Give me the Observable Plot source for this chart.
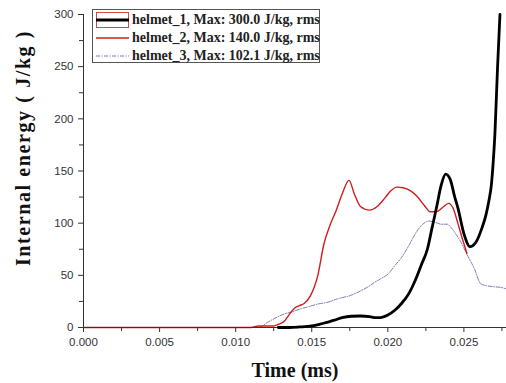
<!DOCTYPE html>
<html>
<head>
<meta charset="utf-8">
<script src="https://cdn.jsdelivr.net/npm/d3@7"></script>
<script src="https://cdn.jsdelivr.net/npm/@observablehq/plot@0.6"></script>
<style>
  html, body { margin: 0; padding: 0; background: #fff; }
  #wrap { position: relative; width: 506px; height: 383px; overflow: hidden; }
  #wrap svg { position: absolute; left: 0; top: 0; }
  .title { position: absolute; font-family: "Liberation Serif", serif; font-weight: bold; font-size: 20px; color: #111; white-space: nowrap; }
  #legend { position: absolute; left: 92px; top: 9px; width: 226px; height: 52px; border: 1px solid #555; background: #fff; }
  #legend .row { position: absolute; left: 0; height: 18px; width: 100%; }
  #legend .lab { position: absolute; left: 39px; top: 0; font-family: "Liberation Serif", serif; font-weight: bold; font-size: 14px; line-height: 18px; color: #222; white-space: nowrap; }
</style>
</head>
<body>
<div id="wrap"></div>
<script>
// ---- data ----
const seriesNames = ["helmet_1, Max: 300.0 J/kg, rms", "helmet_2, Max: 140.0 J/kg, rms", "helmet_3, Max: 102.1 J/kg, rms"];
const seriesColors = ["#000000", "#d01c1c", "#6a6fa8"];

const time1 = [0.0128, 0.0135, 0.0142, 0.0150, 0.0155, 0.0160, 0.0165, 0.0170, 0.0176, 0.0182, 0.0188, 0.0192, 0.0195, 0.0200, 0.0205, 0.0209, 0.0214, 0.0218, 0.0222, 0.0226, 0.0229, 0.0232, 0.0235, 0.0238, 0.0241, 0.0244, 0.0246, 0.0250, 0.0254, 0.0258, 0.0262, 0.02645, 0.02665, 0.0268, 0.02692, 0.02704, 0.02721, 0.02737];
const energy1 = [0, 0, 0.5, 1.5, 3, 5, 7, 9.5, 10.8, 11, 10.5, 9.5, 9.5, 12, 17, 23, 33, 45, 60, 75, 95, 115, 136, 147, 142, 125, 115, 90, 77.5, 82, 96, 108, 122, 136, 157, 186, 249, 300];

const time2 = [0, 0.0110, 0.0115, 0.0120, 0.0125, 0.0128, 0.0132, 0.0136, 0.0139, 0.0142, 0.0145, 0.0149, 0.0154, 0.0158, 0.0162, 0.0166, 0.0170, 0.01745, 0.0178, 0.0182, 0.0188, 0.0193, 0.0198, 0.0202, 0.0206, 0.0210, 0.0215, 0.0219, 0.0224, 0.0228, 0.0232, 0.0236, 0.0240, 0.0243, 0.0246, 0.0249, 0.0252];
const energy2 = [0, 0, 1.5, 1.5, 1.5, 3, 6, 14, 19, 21, 23, 30, 50, 80, 98, 112, 128, 141, 128, 116, 112.5, 116, 124, 131, 134.5, 134, 131, 126, 117, 111, 111, 115, 119, 114, 100, 85, 71];

const time3 = [0, 0.0115, 0.0121, 0.0126, 0.0132, 0.0137, 0.0143, 0.0148, 0.0154, 0.0160, 0.0167, 0.0176, 0.0182, 0.0187, 0.0191, 0.0195, 0.0200, 0.0205, 0.0209, 0.0214, 0.0219, 0.0223, 0.0227, 0.0231, 0.0235, 0.0239, 0.0242, 0.0245, 0.0248, 0.0252, 0.0257, 0.0261, 0.0265, 0.0270, 0.0274, 0.0278];
const energy3 = [0, 0, 5, 9, 13, 15, 18, 20, 22.5, 24, 27.5, 31, 35, 39, 43, 46.5, 51, 60, 67, 79, 92, 99, 102, 101, 99, 99, 95, 89, 82, 70, 56, 42, 40, 39, 38.5, 37];

const xTicks = [0, 0.005, 0.010, 0.015, 0.020, 0.025];
const xMinorTicks = [0.0025, 0.0075, 0.0125, 0.0175, 0.0225, 0.0275];
const yTicks = [0, 50, 100, 150, 200, 250, 300];
const yMinorTicks = [25, 75, 125, 175, 225, 275];

const xLabel = "Time (ms)";
const yLabel = "Internal energy ( J/kg )";

// ---- build ----
const toRows = (ts, vs, s) => ts.map((t, i) => ({t, v: vs[i], s}));
const rows1 = toRows(time1, energy1, seriesNames[0]);
const rows2 = toRows(time2, energy2, seriesNames[1]);
const rows3 = toRows(time3, energy3, seriesNames[2]);

const chart = Plot.plot({
  width: 506,
  height: 383,
  marginLeft: 83,
  marginRight: 0,
  marginTop: 14,
  marginBottom: 56,
  style: {fontFamily: "'Liberation Sans', Arial, sans-serif", fontSize: "11.5px", color: "#333", background: "transparent"},
  x: {domain: [0, 0.0278]},
  y: {domain: [0, 300]},
  marks: [
    Plot.axisX({ticks: xMinorTicks, tickSize: 4, tickFormat: () => "", label: null}),
    Plot.axisX({ticks: xTicks, tickSize: 5, tickPadding: 5, tickFormat: d3.format(".3f"), label: null}),
    Plot.axisY({ticks: yMinorTicks, tickSize: 4, tickFormat: () => "", label: null}),
    Plot.axisY({ticks: yTicks, tickSize: 5, tickPadding: 5, tickFormat: d3.format("d"), label: null}),
    Plot.line(rows3, {x: "t", y: "v", stroke: seriesColors[2], strokeWidth: 0.9, strokeDasharray: "4,1.5,1,1.5", curve: "monotone-x"}),
    Plot.line(rows2, {x: "t", y: "v", stroke: seriesColors[1], strokeWidth: 1.4, curve: "monotone-x"}),
    Plot.ruleY([0], {stroke: "#333", strokeWidth: 1}),
    Plot.ruleX([0], {stroke: "#333", strokeWidth: 1}),
    Plot.line(rows1, {x: "t", y: "v", stroke: seriesColors[0], strokeWidth: 2.8, curve: "monotone-x"})
  ]
});

const wrap = document.getElementById("wrap");
wrap.appendChild(chart);

// axis titles
const xt = document.createElement("div");
xt.className = "title";
xt.textContent = xLabel;
xt.style.left = "295px"; xt.style.top = "370px";
xt.style.transform = "translate(-50%, -50%)";
wrap.appendChild(xt);

const yt = document.createElement("div");
yt.className = "title";
yt.textContent = yLabel;
yt.style.left = "23px"; yt.style.top = "148px";
yt.style.letterSpacing = "1.6px";
yt.style.transform = "translate(-50%, -50%) rotate(-90deg)";
wrap.appendChild(yt);

// legend
const lg = document.createElement("div");
lg.id = "legend";
const widths = [2.8, 1.4, 0.9];
const dashes = ["", "", "4,1.5,1,1.5"];
seriesNames.forEach((name, i) => {
  const row = document.createElement("div");
  row.className = "row";
  row.style.top = (1 + i * 18) + "px";
  const svg = d3.create("svg").attr("width", 38).attr("height", 18).style("position", "absolute").style("left", "0px").style("top", "0px");
  if (i === 0) svg.append("rect").attr("x", 3.5).attr("y", 1.5).attr("width", 32).attr("height", 15).attr("fill", "none").attr("stroke", "#d04848").attr("stroke-width", 1);
  svg.append("line").attr("x1", 3).attr("x2", 36).attr("y1", 9).attr("y2", 9)
    .attr("stroke", seriesColors[i]).attr("stroke-width", widths[i]).attr("stroke-dasharray", dashes[i] || null);
  row.appendChild(svg.node());
  const lab = document.createElement("div");
  lab.className = "lab";
  lab.textContent = name;
  row.appendChild(lab);
  lg.appendChild(row);
});
wrap.appendChild(lg);
</script>
</body>
</html>
